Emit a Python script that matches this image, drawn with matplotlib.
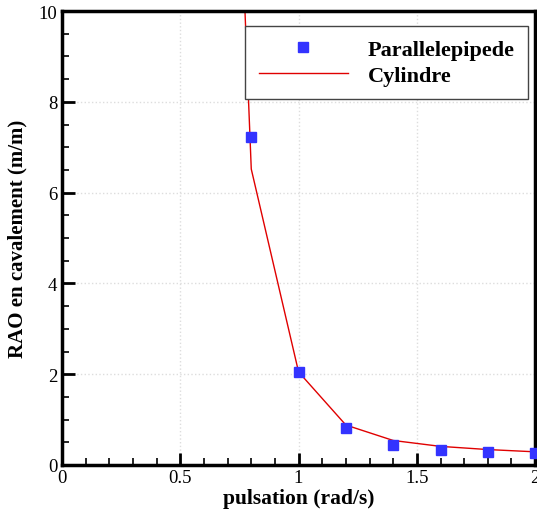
import matplotlib
matplotlib.use("Agg")
import matplotlib.pyplot as plt
from matplotlib.ticker import MultipleLocator

plt.rcParams["font.family"] = ["Liberation Serif", "DejaVu Serif"]

# data
para_x = [0.8, 1.0, 1.2, 1.4, 1.6, 1.8, 2.0]
para_y = [7.22, 2.05, 0.81, 0.44, 0.33, 0.29, 0.26]

cyl_x = [0.7, 0.8, 1.0, 1.2, 1.4, 1.6, 1.8, 2.0]
cyl_y = [19.6, 6.52, 2.05, 0.88, 0.54, 0.41, 0.34, 0.29]

fig = plt.figure(figsize=(5.37, 5.10), dpi=100)
ax = fig.add_axes([0.1155, 0.0863, 0.881, 0.890])

ax.plot(cyl_x, cyl_y, "-", color="#e00000", lw=1.0, label="Cylindre", zorder=2)
ax.plot(para_x, para_y, "s", color="#3333ff", ms=7.5, mec="#3333ff", lw=0,
        label="Parallelepipede", zorder=3, clip_on=False)

ax.set_xlim(0, 2)
ax.set_ylim(0, 10)
ax.xaxis.set_major_locator(MultipleLocator(0.5))
ax.xaxis.set_minor_locator(MultipleLocator(0.1))
ax.yaxis.set_major_locator(MultipleLocator(2))
ax.yaxis.set_minor_locator(MultipleLocator(0.5))
ax.xaxis.set_major_formatter(plt.FuncFormatter(lambda v, p: f"{v:g}"))
ax.yaxis.set_major_formatter(plt.FuncFormatter(lambda v, p: f"{v:g}"))

ax.tick_params(which="both", direction="in", labelsize=13.5, width=1.2)
ax.tick_params(which="major", length=9, width=2)
ax.tick_params(which="minor", length=5)
ax.tick_params(axis="x", pad=3)
ax.grid(True, which="major", ls=":", color="#dddddd", lw=1)

for s in ax.spines.values():
    s.set_linewidth(2.5)

ax.set_xlabel("pulsation (rad/s)", fontsize=15.5, fontweight="bold", labelpad=1)
ax.set_ylabel("RAO en cavalement (m/m)", fontsize=15, fontweight="bold", labelpad=8)

handles, labels = ax.get_legend_handles_labels()
leg = ax.legend(handles[::-1], labels[::-1], loc="upper right",
                bbox_to_anchor=(0.985, 0.967), borderaxespad=0,
                fancybox=False, framealpha=1,
                edgecolor="#444444", handlelength=4.0, handletextpad=0.9,
                borderpad=0.6, labelspacing=0.25,
                prop={"size": 16, "weight": "bold"})
leg.get_frame().set_linewidth(1.0)

fig.savefig("out.png", dpi=100)
